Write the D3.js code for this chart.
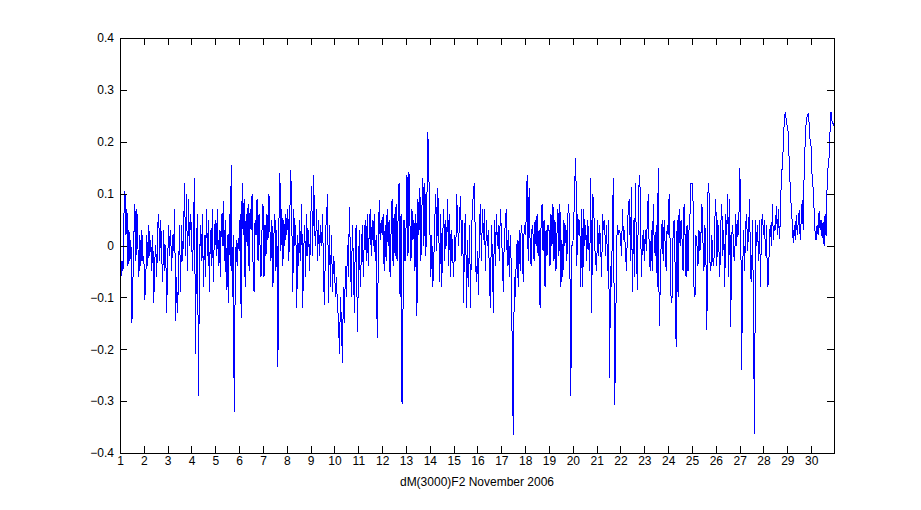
<!DOCTYPE html>
<html>
<head>
<meta charset="utf-8">
<script src="https://cdn.jsdelivr.net/npm/d3@7"></script>
<style>
  html, body { margin: 0; padding: 0; background: #ffffff; }
  svg { display: block; }
  text { font-family: "Liberation Sans", Arial, sans-serif; font-size: 12px; fill: #000; }
</style>
</head>
<body>
<svg id="chart" width="921" height="510"></svg>
<script>
// Hourly dM(3000)F2 values, November 2006 (one row = one day, 24 hourly values)
const week1 = [
  [-0.05,-0.06,-0.03,-0.05,0.06,0.105,0.02,0.07,-0.04,0.03,-0.03,0.01,-0.15,-0.07,0.02,0.08,-0.03,0.07,0.0,-0.06,0.02,-0.04,0.03,-0.03],
  [-0.02,-0.105,-0.06,0.02,-0.04,0.04,-0.02,0.01,-0.05,0.02,-0.11,-0.03,0.0,-0.06,0.04,0.06,-0.03,0.05,-0.02,-0.07,0.03,-0.05,0.0,-0.13],
  [-0.03,0.04,-0.02,0.03,-0.05,0.02,-0.01,0.07,-0.145,-0.06,-0.13,-0.05,0.04,-0.09,0.04,-0.03,0.02,0.12,-0.02,0.1,-0.05,0.09,0.0,0.06],
  [0.03,-0.05,0.03,0.13,-0.21,0.0,0.06,-0.29,-0.05,0.04,-0.03,0.06,-0.08,0.02,-0.06,0.07,-0.02,0.05,-0.09,0.03,-0.04,0.07,-0.07,0.02],
  [0.05,-0.02,0.07,-0.04,0.03,-0.06,0.06,0.0,0.085,-0.03,0.05,-0.085,0.02,-0.11,0.06,-0.04,0.155,-0.1,0.02,-0.32,-0.07,0.01,-0.04,0.015],
  [-0.01,0.06,-0.14,0.12,0.02,0.09,-0.08,0.06,0.0,0.08,-0.05,0.07,0.03,0.1,-0.04,-0.09,0.05,0.02,0.09,-0.03,0.06,0.0,-0.06,0.03],
  [0.08,-0.06,0.04,-0.02,0.06,0.01,0.1,0.03,-0.03,0.05,-0.08,0.02,0.06,-0.05,0.03,-0.235,0.04,0.14,-0.01,0.07,-0.04,0.05,0.0,0.06]
];
const week2 = [
  [0.02,0.07,-0.03,0.06,0.145,0.05,-0.09,0.07,0.0,0.04,-0.12,0.02,-0.04,0.05,-0.03,0.08,-0.12,-0.01,0.04,-0.06,0.06,-0.02,0.03,-0.05],
  [0.04,0.115,-0.02,0.135,0.03,0.0,0.07,-0.03,0.05,-0.02,0.04,0.0,0.06,-0.07,-0.115,0.03,0.05,0.1,-0.11,0.04,-0.08,0.02,-0.09,-0.02],
  [-0.04,-0.1,-0.06,-0.12,-0.14,-0.21,-0.1,-0.15,-0.226,-0.08,-0.15,-0.04,-0.1,0.0,-0.06,0.075,-0.02,-0.1,0.04,-0.03,-0.13,0.02,0.04,-0.166],
  [-0.07,0.03,-0.08,-0.02,0.04,-0.06,0.01,0.05,-0.03,0.06,-0.04,0.03,0.07,-0.02,0.05,0.0,0.06,-0.03,0.02,-0.178,-0.05,0.087,0.01,0.05],
  [0.02,0.06,-0.05,0.04,-0.03,0.07,0.0,0.05,-0.06,0.03,0.09,-0.04,0.06,-0.02,0.08,-0.03,0.05,0.12,-0.1,0.06,-0.305,-0.12,0.05,-0.03],
  [0.03,0.135,-0.02,0.142,0.04,-0.03,0.07,0.01,0.05,-0.05,0.06,-0.135,0.09,0.02,0.11,-0.03,0.07,0.13,0.0,0.12,-0.02,0.08,0.218,0.14],
  [0.04,-0.06,0.02,-0.08,-0.03,0.05,0.1,-0.01,0.11,0.03,-0.07,0.06,-0.08,0.02,0.07,-0.03,0.05,0.0,0.09,-0.04,0.06,-0.06,0.03,-0.02]
];
const week3 = [
  [-0.06,0.02,-0.03,0.1,0.04,0.0,0.06,0.095,-0.02,0.05,-0.11,0.03,0.06,-0.12,0.01,-0.08,0.04,-0.12,0.03,0.07,0.11,0.12,-0.03,-0.07],
  [-0.01,-0.095,0.04,0.08,-0.03,0.07,0.01,0.07,-0.05,0.05,0.0,0.03,-0.06,-0.12,0.04,-0.02,-0.13,0.05,-0.04,0.06,0.0,0.04,-0.03,0.07],
  [0.03,-0.02,-0.09,0.02,0.04,0.07,-0.04,0.03,-0.06,0.02,-0.04,-0.205,-0.365,-0.06,-0.1,-0.03,0.01,-0.08,0.03,-0.05,0.04,0.02,-0.07,0.04],
  [0.02,0.05,0.135,-0.03,0.11,0.0,-0.04,0.04,0.02,-0.03,0.05,0.0,0.06,-0.02,0.03,-0.12,0.04,0.08,-0.01,0.05,-0.08,0.03,-0.02,0.04],
  [0.03,-0.04,0.06,0.0,0.08,-0.03,0.05,-0.05,0.02,0.07,-0.02,0.08,-0.08,0.01,-0.06,0.05,0.0,0.04,-0.03,0.06,0.08,-0.02,-0.29,0.0],
  [0.0,0.05,0.125,0.169,-0.04,0.06,0.02,0.05,-0.08,0.07,-0.08,0.07,0.0,0.04,-0.03,0.05,0.01,-0.05,0.13,-0.13,0.1,0.08,0.0,-0.03],
  [-0.05,0.05,-0.02,0.04,0.0,-0.06,0.06,0.03,0.05,-0.02,0.04,-0.05,0.05,-0.255,-0.04,-0.08,0.07,0.13,-0.307,-0.22,0.0,0.04,0.02,0.03]
];
const week4 = [
  [0.02,-0.02,0.07,0.01,0.03,-0.01,-0.05,0.03,0.08,0.09,-0.03,0.113,-0.09,0.05,-0.06,0.12,0.0,-0.085,0.08,0.136,0.1,-0.06,0.0,0.03],
  [-0.03,0.03,-0.01,0.05,0.1,-0.02,-0.05,0.03,-0.05,0.08,0.0,-0.02,0.04,-0.08,0.15,-0.156,-0.08,0.01,0.05,-0.03,0.05,0.0,-0.05,0.04],
  [0.02,0.1,0.0,-0.11,-0.1,0.03,0.05,-0.04,-0.195,0.05,-0.1,0.07,0.0,0.05,0.01,-0.05,0.08,0.02,-0.06,0.04,-0.05,0.03,0.06,0.12],
  [0.12,0.09,-0.08,-0.1,0.02,0.0,-0.04,0.03,-0.01,0.02,0.08,0.01,-0.05,0.04,-0.02,-0.162,0.1,0.12,-0.03,-0.05,0.02,-0.03,-0.04,0.05],
  [0.09,-0.04,0.05,0.0,-0.06,0.04,0.08,-0.02,0.03,-0.08,0.06,0.02,0.1,-0.06,0.09,-0.157,0.02,0.04,-0.02,-0.03,0.06,0.0,0.05,0.02],
  [0.15,0.09,-0.24,-0.05,0.03,-0.05,0.04,0.06,-0.01,0.03,0.09,-0.06,-0.07,0.05,-0.17,-0.363,0.05,0.0,0.04,-0.03,0.05,-0.08,0.04,0.06],
  [0.02,0.05,-0.02,0.04,-0.08,-0.073,0.02,0.04,0.0,0.08,0.01,0.04,0.03,0.077,0.02,0.07,0.013,0.05,0.14,0.15,0.197,0.245,0.258,0.24]
];
const week5 = [
  [0.229,0.217,0.152,0.11,0.07,0.043,0.005,0.04,0.01,0.058,0.02,0.045,0.068,0.01,0.05,0.088,0.03,0.15,0.2,0.24,0.25,0.255,0.235,0.2],
  [0.19,0.13,0.11,0.066,0.022,0.01,0.04,0.02,0.066,0.03,0.05,0.015,0.045,0.0,0.06,0.018,0.11,0.15,0.17,0.22,0.258,0.24,0.235,0.23]
];
const xTicks = d3.range(1, 31);           // day-of-month tick labels 1..30
const yTicks = [-0.4,-0.3,-0.2,-0.1,0,0.1,0.2,0.3,0.4];
const xLabel = "dM(3000)F2 November 2006";

const values = [].concat(week1, week2, week3, week4, week5).flat();
const data = values.map((v, i) => ({ t: 1 + i / 24, v }));

const margin = { left: 120, top: 38, right: 87, bottom: 57 };
const W = 921, H = 510;
const iw = W - margin.left - margin.right;
const ih = H - margin.top - margin.bottom;

const svg = d3.select("#chart");
svg.append("rect").attr("width", W).attr("height", H).attr("fill", "#fff");
const g = svg.append("g").attr("transform", `translate(${margin.left},${margin.top})`);

const x = d3.scaleLinear().domain([1, 1 + (values.length - 1) / 24]).range([0, iw]);
const y = d3.scaleLinear().domain([-0.4, 0.4]).range([ih, 0]);

const fmtY = d => (d === 0 ? "0" : d3.format(".1f")(d));

// series
g.append("path")
  .datum(data)
  .attr("fill", "none")
  .attr("stroke", "#0000ff")
  .attr("stroke-width", 1)
  .attr("shape-rendering", "crispEdges")
  .attr("d", d3.line().x(d => x(d.t)).y(d => y(d.v)));

// axes (MATLAB-style inward ticks, box)
const tl = 7;
const axB = g.append("g").attr("transform", `translate(0,${ih})`)
  .call(d3.axisBottom(x).tickValues(xTicks).tickSize(-tl).tickPadding(3).tickFormat(d3.format("d")));
const axT = g.append("g")
  .call(d3.axisTop(x).tickValues(xTicks).tickSize(-tl).tickFormat(""));
const axL = g.append("g")
  .call(d3.axisLeft(y).tickValues(yTicks).tickSize(-tl).tickPadding(6).tickFormat(fmtY));
const axR = g.append("g").attr("transform", `translate(${iw},0)`)
  .call(d3.axisRight(y).tickValues(yTicks).tickSize(-tl).tickFormat(""));

[axB, axT, axL, axR].forEach(a => {
  a.select(".domain").remove();
  a.selectAll("line").attr("stroke", "#000").attr("shape-rendering", "crispEdges");
  a.selectAll("text").attr("font-family", "\"Liberation Sans\", Arial, sans-serif").attr("font-size", 12).attr("fill", "#000");
});

g.append("rect")
  .attr("x", 0).attr("y", 0).attr("width", iw).attr("height", ih)
  .attr("fill", "none").attr("stroke", "#000").attr("stroke-width", 1)
  .attr("shape-rendering", "crispEdges");

g.append("text")
  .attr("x", iw / 2).attr("y", ih + 33)
  .attr("text-anchor", "middle")
  .text(xLabel);
</script>
</body>
</html>
